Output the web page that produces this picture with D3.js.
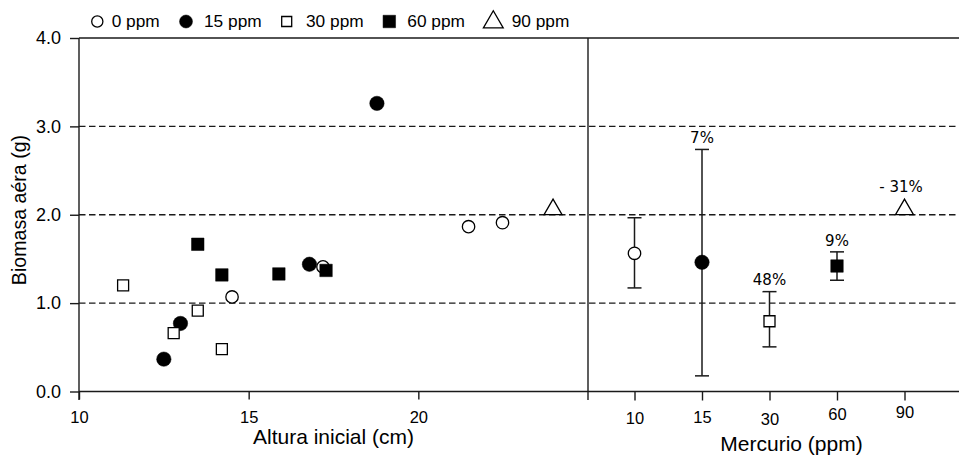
<!DOCTYPE html>
<html>
<head>
<meta charset="utf-8">
<script src="https://cdn.jsdelivr.net/npm/d3@7/dist/d3.min.js"></script>
<style>
  html, body { margin: 0; padding: 0; background: #fff; }
  svg { display: block; }
  text { font-family: "Liberation Sans", Arial, Helvetica, sans-serif; fill: #000; }
  text.pct { font-family: "DejaVu Sans", sans-serif; }
</style>
</head>
<body>
<svg id="chart" width="959" height="455"></svg>
<script>
// ---------- DATA ----------
const groups = ["0 ppm", "15 ppm", "30 ppm", "60 ppm", "90 ppm"];
const legendLabels = ["0 ppm", "15 ppm", "30 ppm", "60 ppm", "90 ppm"];

// Left panel: initial height (cm) vs aerial biomass (g), per group
const heightValues = [
  [14.51, 17.19, 21.48, 22.48],        // 0 ppm
  [12.50, 12.99, 16.79, 18.78],        // 15 ppm
  [11.30, 12.79, 13.50, 14.21],        // 30 ppm
  [13.50, 14.21, 15.89, 17.28],        // 60 ppm
  [23.97]                              // 90 ppm
];
const biomassValues = [
  [1.07, 1.41, 1.865, 1.91],
  [0.366, 0.77, 1.44, 3.26],
  [1.20, 0.66, 0.915, 0.479],
  [1.666, 1.319, 1.33, 1.37],
  [2.06]
];

// Right panel: mean biomass by mercury level with error bars
const mercuryCategories = ["10", "15", "30", "60", "90"];
const meanBiomass = [1.564, 1.462, 0.795, 1.42, 2.06];
const errLow  = [1.172, 0.177, 0.505, 1.259, null];
const errHigh = [1.966, 2.739, 1.13, 1.58, null];
const pctLabels = ["", "7%", "48%", "9%", "- 31%"];

const xTicksLeft = [10, 15, 20];
const yTicks = [0, 1, 2, 3, 4];
const yTickLabels = ["0.0", "1.0", "2.0", "3.0", "4.0"];
const gridValues = [1, 2, 3];

// ---------- LAYOUT ----------
const L = 79, D = 588, R = 959, T = 38, B = 391.5;
const svg = d3.select("#chart");
const lineColor = "#1a1a1a";

const y = d3.scaleLinear().domain([0, 4]).range([B, T]);
const xL = d3.scaleLinear().domain([10, 25]).range([L, D]);
const xR = d3.scalePoint().domain(mercuryCategories).range([634.5, 904.5]);

// marker styles per group
const shapes = [
  {type: d3.symbolCircle, filled: false, size: Math.PI * 6.2 * 6.2, lsize: Math.PI * 5.6 * 5.6},
  {type: d3.symbolCircle, filled: true,  size: Math.PI * 7.2 * 7.2, lsize: Math.PI * 6.5 * 6.5},
  {type: d3.symbolSquare, filled: false, size: 11 * 11, lsize: 10 * 10},
  {type: d3.symbolSquare, filled: true,  size: 12.5 * 12.5, lsize: 12.5 * 12.5},
  {type: d3.symbolTriangle, filled: false, size: 140, lsize: 170}
];
function drawMarker(g, gi, cx, cy, legend) {
  const s = shapes[gi];
  g.append("path")
    .attr("d", d3.symbol().type(s.type).size(legend ? s.lsize : s.size)())
    .attr("transform", `translate(${cx},${cy})`)
    .attr("fill", s.filled ? "#000" : "#fff")
    .attr("stroke", "#000")
    .attr("stroke-width", s.filled ? 0.5 : 1.3);
}

// ---------- GRID ----------
svg.append("g").selectAll("line").data(gridValues).join("line")
  .attr("x1", L).attr("x2", R)
  .attr("y1", d => y(d)).attr("y2", d => y(d))
  .attr("stroke", lineColor).attr("stroke-width", 1.3)
  .attr("stroke-dasharray", "6.5,3.5");

// ---------- FRAME / AXES ----------
const frame = svg.append("g").attr("stroke", lineColor).attr("stroke-width", 1.4);
frame.append("line").attr("x1", L).attr("x2", R).attr("y1", y(4)).attr("y2", y(4));
frame.append("line").attr("x1", L).attr("x2", R).attr("y1", y(0)).attr("y2", y(0));
frame.append("line").attr("x1", L).attr("x2", L).attr("y1", y(4)).attr("y2", 400);
frame.append("line").attr("x1", D).attr("x2", D).attr("y1", y(4)).attr("y2", 400);

// Y axis
const yAxis = d3.axisLeft(y).tickValues(yTicks)
  .tickFormat((d, i) => yTickLabels[i]).tickSize(9).tickPadding(9);
const gy = svg.append("g").attr("transform", `translate(${L},0)`).call(yAxis);
gy.select(".domain").remove();
gy.selectAll(".tick line").attr("stroke", lineColor).attr("stroke-width", 1.4);
gy.selectAll(".tick text").attr("font-size", 18).attr("fill", "#000");

// X axis left
const xAxisL = d3.axisBottom(xL).tickValues(xTicksLeft).tickFormat(d3.format("d"))
  .tickSize(8).tickPadding(12);
const gxl = svg.append("g").attr("transform", `translate(0,${B})`).call(xAxisL);
gxl.select(".domain").remove();
gxl.selectAll(".tick line").attr("stroke", lineColor).attr("stroke-width", 1.4);
gxl.selectAll(".tick text").attr("font-size", 16.5).attr("fill", "#000");

// X axis right
const labelNudge = [0, -1.5, 0.7, -4, -6];
const xAxisR = d3.axisBottom(xR).tickSize(9).tickPadding(12);
const gxr = svg.append("g").attr("transform", `translate(0,${B})`).call(xAxisR);
gxr.select(".domain").remove();
gxr.selectAll(".tick line").attr("stroke", lineColor).attr("stroke-width", 1.4);
gxr.selectAll(".tick text").attr("font-size", 16.5).attr("fill", "#000")
  .attr("transform", (d, i) => `translate(0,${labelNudge[i]})`);

// Axis titles
svg.append("text").attr("x", 333.5).attr("y", 444).attr("text-anchor", "middle")
  .attr("font-size", 21).text("Altura inicial (cm)");
svg.append("text").attr("x", 791.5).attr("y", 450.5).attr("text-anchor", "middle")
  .attr("font-size", 21).text("Mercurio (ppm)");
svg.append("text").attr("transform", "translate(25.5,210) rotate(-90)")
  .attr("text-anchor", "middle").attr("font-size", 19.6).text("Biomasa aéra (g)");

// ---------- LEFT PANEL POINTS ----------
const gL = svg.append("g");
heightValues.forEach((xs, gi) => {
  xs.forEach((xv, j) => drawMarker(gL, gi, xL(xv), y(biomassValues[gi][j]), false));
});

// ---------- RIGHT PANEL ----------
const gR = svg.append("g");
mercuryCategories.forEach((c, i) => {
  const cx = xR(c);
  if (errLow[i] !== null) {
    gR.append("line").attr("x1", cx).attr("x2", cx)
      .attr("y1", y(errLow[i])).attr("y2", y(errHigh[i]))
      .attr("stroke", lineColor).attr("stroke-width", 1.5);
    [errLow[i], errHigh[i]].forEach(v => {
      gR.append("line").attr("x1", cx - 7).attr("x2", cx + 7)
        .attr("y1", y(v)).attr("y2", y(v))
        .attr("stroke", lineColor).attr("stroke-width", 1.5);
    });
  }
  drawMarker(gR, i, cx, y(meanBiomass[i]), false);
  if (pctLabels[i]) {
    const ly = errHigh[i] !== null ? y(errHigh[i]) - 6.2 : y(meanBiomass[i]) - 17.5;
    gR.append("text").attr("class", "pct")
      .attr("x", cx - (i === 4 ? 3.5 : 0)).attr("y", ly)
      .attr("text-anchor", "middle").attr("font-size", 15)
      .text(pctLabels[i]);
  }
});

// ---------- LEGEND ----------
const legendSymX = [97.3, 186, 286.7, 389.3, 493.3];
const legendTextX = [111.7, 204, 306, 407.3, 511.7];
const gLeg = svg.append("g");
legendLabels.forEach((lab, i) => {
  drawMarker(gLeg, i, legendSymX[i], i === 4 ? 22.2 : 21.5, true);
  gLeg.append("text").attr("x", legendTextX[i]).attr("y", 26.7)
    .attr("font-size", 17.3).text(lab);
});
</script>
</body>
</html>
